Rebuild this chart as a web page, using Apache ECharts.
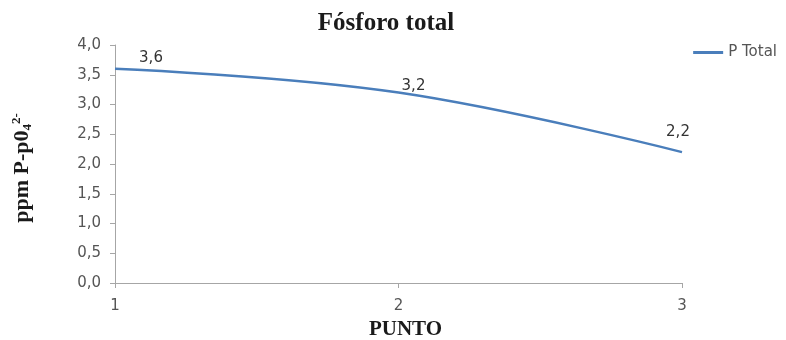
<!DOCTYPE html>
<html><head><meta charset="utf-8">
<script src="https://cdn.jsdelivr.net/npm/echarts@6/dist/echarts.min.js"></script>
<style>html,body{margin:0;padding:0;background:#fff}#c{width:786px;height:340px}</style>
</head><body><div id="c"></div>
<script>
const categories = ['1', '2', '3'];
const pTotal = [3.6, 3.2, 2.2];
const yTicks = [0, 0.5, 1, 1.5, 2, 2.5, 3, 3.5, 4];
const seriesName = 'P Total';
const fmt = v => v.toFixed(1).replace('.', ',');
const labelOffsets = [[36, 2], [15, 6], [-4, -7]];
const lineColor = '#4a7ebb';
const chart = echarts.init(document.getElementById('c'));
chart.setOption({
  animation: false,
  backgroundColor: '#fff',
  title: {text: 'Fósforo total', left: 381, top: 6, textAlign: 'center',
    textStyle: {fontFamily: 'Liberation Serif', fontWeight: 'bold', fontSize: 25, color: '#1a1a1a'}},
  legend: {data: [{name: seriesName, itemStyle: {color: lineColor}}], right: 4, top: 40, itemWidth: 30, itemHeight: 3, itemGap: 4,
    icon: 'rect', textStyle: {fontFamily: 'DejaVu Sans', fontSize: 15, color: '#555'}},
  grid: {left: 115, right: 104, top: 45, bottom: 57, outerBoundsMode: 'none', containLabel: false},
  xAxis: {type: 'category', data: categories, boundaryGap: false,
    name: 'PUNTO', nameLocation: 'middle', nameGap: 36,
    nameTextStyle: {fontFamily: 'Liberation Serif', fontWeight: 'bold', fontSize: 21, color: '#1a1a1a', padding: [0, 0, 0, 14]},
    axisLine: {lineStyle: {color: '#a6a6a6'}},
    axisTick: {show: true, length: 5, lineStyle: {color: '#a6a6a6'}},
    axisLabel: {fontFamily: 'DejaVu Sans', fontSize: 15, color: '#555', margin: 16}},
  yAxis: {type: 'value', min: 0, max: 4, interval: 0.5,
    name: '{m|ppm P-p0}{s|4}{p|2-}', nameLocation: 'middle', nameRotate: 90, nameGap: 80,
    nameTextStyle: {padding: [0, 8, 0, 0], rich: {
        m: {fontFamily: 'Liberation Serif', fontWeight: 'bold', fontSize: 22, color: '#1a1a1a'},
        s: {fontFamily: 'Liberation Serif', fontWeight: 'bold', fontSize: 13, color: '#1a1a1a', padding: [10,0,0,0]},
        p: {fontFamily: 'Liberation Serif', fontWeight: 'bold', fontSize: 13, color: '#1a1a1a', padding: [0,0,12,0]}
      }},
    splitLine: {show: false},
    axisLine: {show: true, lineStyle: {color: '#a6a6a6'}},
    axisTick: {show: true, length: 5, lineStyle: {color: '#a6a6a6'}},
    axisLabel: {fontFamily: 'DejaVu Sans', fontSize: 15, color: '#555', margin: 14,
      formatter: v => yTicks.includes(v) ? fmt(v) : ''}},
  series: [{name: seriesName, type: 'line', smooth: 0.4, data: pTotal,
    symbol: 'circle', symbolSize: 0, showSymbol: true, color: lineColor,
    lineStyle: {color: lineColor, width: 2.5}, itemStyle: {color: lineColor},
    label: {show: true, position: 'top', distance: 5, formatter: p => fmt(p.value),
      fontFamily: 'DejaVu Sans', fontSize: 15, color: '#333'},
    labelLayout: p => ({dx: labelOffsets[p.dataIndex][0], dy: labelOffsets[p.dataIndex][1]})
  }]
});
</script></body></html>
